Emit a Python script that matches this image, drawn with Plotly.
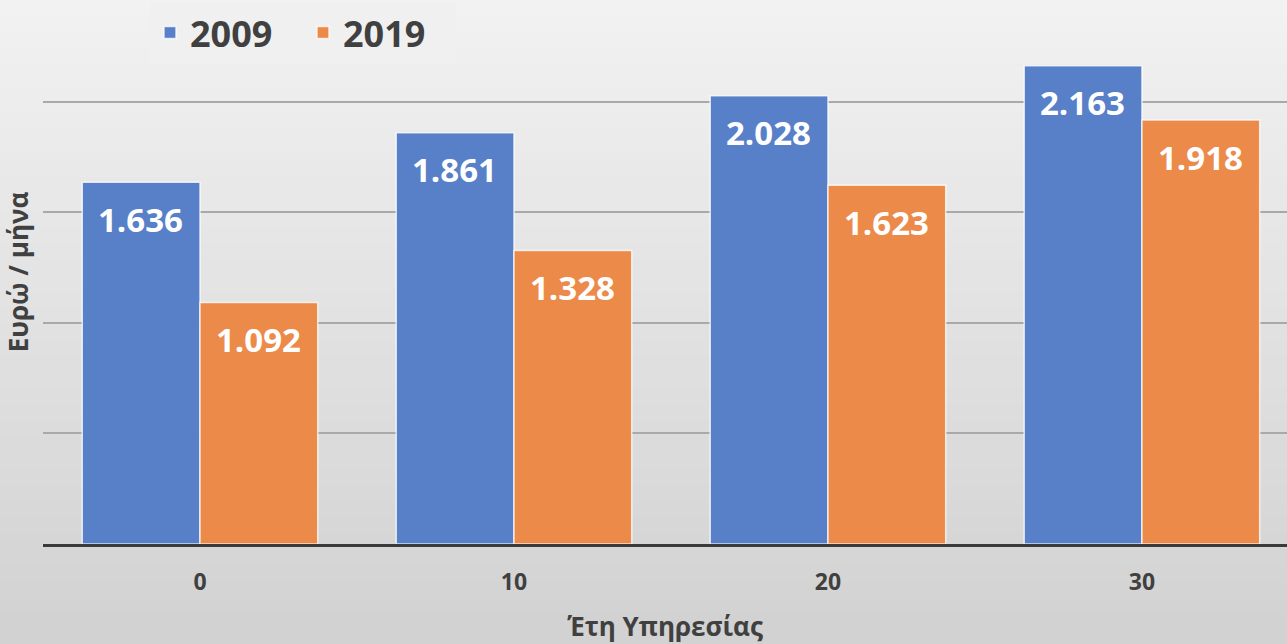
import plotly.graph_objects as go

categories = ["0", "10", "20", "30"]
series_names = ["2009", "2019"]
values_2009 = [1636, 1861, 2028, 2163]
values_2019 = [1092, 1328, 1623, 1918]

COLORS = {
    "blue": "#5880C8",
    "orange": "#EC8A4A",
    "text": "#404040",
    "grid": "#A9A9A9",
    "axis": "#3A3A3A",
}
FONT = "Open Sans, Segoe UI, sans-serif"


def fmt(v):
    return f"{v:,}".replace(",", ".")


fig = go.Figure()
for name, vals, color in [
    (series_names[0], values_2009, COLORS["blue"]),
    (series_names[1], values_2019, COLORS["orange"]),
]:
    fig.add_trace(go.Bar(
        x=categories, y=vals, name=name,
        marker=dict(color=color, line=dict(color="rgba(255,255,255,0.75)", width=1.5)),
    ))

# value labels just under the top of each bar
for vals, shift in [(values_2009, -59), (values_2019, 59)]:
    for i, v in enumerate(vals):
        fig.add_annotation(
            x=i, y=v, text=fmt(v), showarrow=False,
            xshift=shift, yshift=-37, yanchor="middle",
            font=dict(family=FONT, size=33, color="white", weight="bold"),
        )

# soft vertical gradient in the background
n = 40
top, bottom = 1.0, -0.19
for i in range(n):
    g = int(242 - (242 - 210) * i / (n - 1))
    fig.add_shape(
        type="rect", xref="paper", yref="paper", layer="below",
        x0=-0.05, x1=1.05,
        y0=top - (top - bottom) * (i + 1) / n, y1=top - (top - bottom) * i / n + 0.001,
        fillcolor=f"rgb({g},{g},{g})", line=dict(width=0),
    )

fig.update_layout(
    width=1287, height=644,
    margin=dict(l=43, r=0, t=0, b=100),
    paper_bgcolor="#e4e4e4",
    plot_bgcolor="rgba(0,0,0,0)",
    barmode="group", bargap=0.25, bargroupgap=0,
    font=dict(family=FONT, color=COLORS["text"]),
    legend=dict(
        orientation="h", x=0.086, xanchor="left", y=0.995, yanchor="top",
        bgcolor="#f0f0f0", font=dict(size=36, weight="bold", color=COLORS["text"]),
        entrywidth=108,
    ),
    showlegend=True,
)
fig.update_xaxes(
    type="category", range=[-0.5, 3.462], automargin=False,
    showline=True, linecolor=COLORS["axis"], linewidth=3,
    ticks="", ticklabelstandoff=15,
    tickfont=dict(size=23, weight="bold", color=COLORS["text"]),
    title=dict(text="Έτη Υπηρεσίας", font=dict(size=26, weight="bold", color=COLORS["text"]), standoff=28),
)
fig.update_yaxes(
    range=[0, 2461], dtick=500, showticklabels=False, ticks="",
    showgrid=True, gridcolor=COLORS["grid"], gridwidth=1.5, zeroline=False,
    title=dict(text="Ευρώ / μήνα", font=dict(size=26, weight="bold", color=COLORS["text"]), standoff=6),
)

fig.write_html(
    "out.html",
    config={"displayModeBar": False},
    post_script="document.body.style.margin = '0';",
)
